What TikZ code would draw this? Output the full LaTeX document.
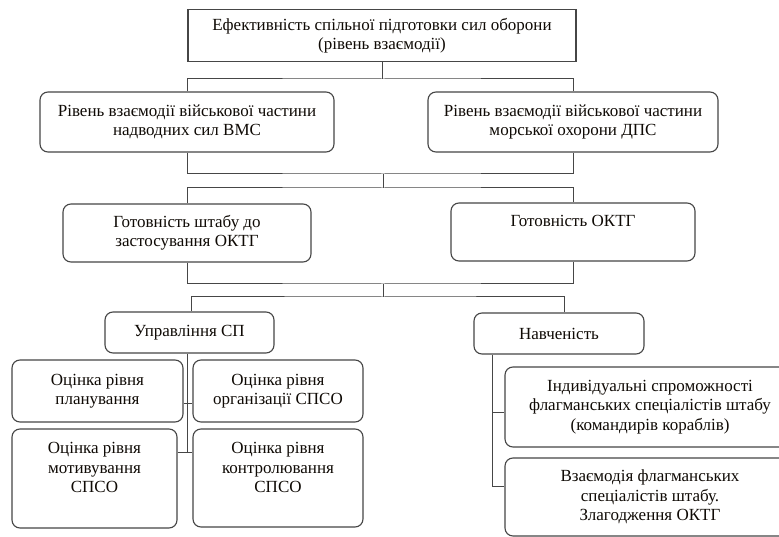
\documentclass[tikz,border=0pt]{standalone}
\usepackage{fontspec}
\setmainfont{Liberation Serif}
\definecolor{lineC}{RGB}{70,70,70}
\definecolor{txtC}{RGB}{15,10,5}
\begin{document}
\begin{tikzpicture}[x=1pt,y=-1pt,
  every node/.style={font=\fontsize{17}{19.5}\selectfont, text=txtC},
  box/.style={draw=lineC, line width=1.1pt, rounded corners=8pt, align=center, inner sep=0pt},
  sqbox/.style={draw=lineC, line width=1.1pt, align=center, inner sep=0pt},
  toplabel/.style={anchor=north, inner sep=0pt, align=center},
  conn/.style={draw=lineC, line width=1pt}]
\useasboundingbox[fill=white] (0,0) rectangle (779,537);

% boxes
\node[sqbox, minimum width=388, minimum height=52] (top) at (382,35.5)
  {Ефективність спільної підготовки сил оборони\\(рівень взаємодії)};
\node[box, minimum width=294, minimum height=60] (l2) at (187,122)
  {Рівень взаємодії військової частини\\надводних сил ВМС};
\node[box, minimum width=290, minimum height=60] (r2) at (573,122)
  {Рівень взаємодії військової частини\\морської охорони ДПС};
\node[box, minimum width=248, minimum height=58] (l3) at (187,233)
  {Готовність штабу до\\застосування ОКТГ};
\node[box, minimum width=244, minimum height=58,
  label={[toplabel, yshift=-13pt]north:Готовність ОКТГ}] (r3) at (573,232) {};
\node[box, minimum width=169, minimum height=41] (u) at (189.5,332.5) {Управління СП};
\node[box, minimum width=170, minimum height=41] (n) at (559,333.5) {Навченість};
\node[box, minimum width=171, minimum height=62] (p) at (97.5,391) {Оцінка рівня\\планування};
\node[box, minimum width=170, minimum height=62] (o) at (278,391) {Оцінка рівня\\організації СПСО};
\node[box, minimum width=165, minimum height=99,
  label={[toplabel, yshift=-14pt]north:Оцінка рівня\\мотивування\\СПСО}] (m) at (94.5,478.5) {};
\node[box, minimum width=170, minimum height=98,
  label={[toplabel, yshift=-14pt]north:Оцінка рівня\\контролювання\\СПСО}] (c) at (278,478) {};
\node[box, minimum width=290, minimum height=80] (i) at (650,407)
  {Індивідуальні спроможності\\флагманських спеціалістів штабу\\(командирів кораблів)};
\node[box, minimum width=290, minimum height=78] (v) at (650,497)
  {Взаємодія флагманських\\спеціалістів штабу.\\Злагодження ОКТГ};

% junctions
\coordinate (j1) at (383,79);
\coordinate (j2) at (383,174);
\coordinate (j3) at (383,188);
\coordinate (j4) at (383,284);
\coordinate (j5) at (383,297);
\coordinate (s1) at (187,403);
\coordinate (s2) at (187,452);
\coordinate (t1) at (492,412);
\coordinate (t2) at (492,486);

% connectors
\draw[conn] (top.south) -- (top.south |- j1);
\draw[conn] (l2.north) |- (j1) -| (r2.north);
\draw[conn] (l2.south) |- (j2) -| (r2.south);
\draw[conn] (j2) -- (j3);
\draw[conn] (l3.north) |- (j3) -| (r3.north);
\draw[conn] (l3.south) |- (j4) -| (r3.south);
\draw[conn] (j4) -- (j5);
\draw[conn] ([xshift=1.5pt]u.north) |- (j5) -| ([xshift=5pt]n.north);
\draw[conn] (u.south -| s1) -- (s2);
\draw[conn] (p.east |- s1) -- (o.west |- s1);
\draw[conn] (m.east |- s2) -- (c.west |- s2);
\draw[conn] (n.south -| t1) -- (t2) -- (v.west |- t2);
\draw[conn] (t1) -- (i.west |- t1);
\end{tikzpicture}
\end{document}
